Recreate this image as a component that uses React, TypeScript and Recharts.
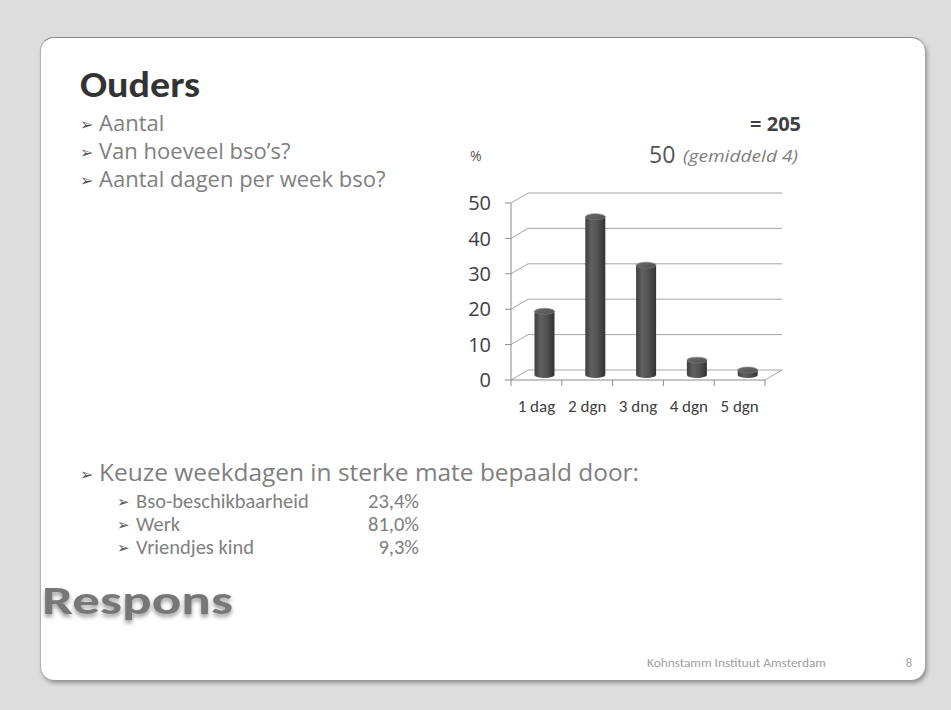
import React from 'react';
import { BarChart, Bar, XAxis, YAxis, CartesianGrid } from 'recharts';

// ---- data ----
const categories = ['1 dag', '2 dgn', '3 dng', '4 dgn', '5 dgn'];
const percentages = [18, 44.7, 31, 4.2, 1.4];
const yTicks = [0, 10, 20, 30, 40, 50];
const bulletsTop = ['Aantal', 'Van hoeveel bso\u2019s?', 'Aantal dagen per week bso?'];
const reasons = ['Bso-beschikbaarheid', 'Werk', 'Vriendjes kind'];
const reasonValues = ['23,4%', '81,0%', '9,3%'];

const data = categories.map((c, i) => ({ name: c, value: percentages[i] }));

const DX = 17;
const DY = 10;
const BAND = (765 - 511) / categories.length;
const CALIBRI = 'Carlito, Lato, sans-serif';
const SEGOE = '"Open Sans", "Noto Sans", sans-serif';

const Cylinder = (props: any) => {
  const { x, y, width, height, index } = props;
  if (width == null || height == null) return null;
  const rx = width / 2;
  const ry = 3;
  const cx = x + rx + DX / 2;
  const left = cx - rx;
  const top = y - DY / 2;
  const bottom = y + height - DY / 2;
  const gid = `cyl-${index}`;
  const tid = `cyltop-${index}`;
  return (
    <g>
      <defs>
        <linearGradient id={gid} x1="0" y1="0" x2="1" y2="0">
          <stop offset="0%" stopColor="#3e3e3e" />
          <stop offset="30%" stopColor="#606060" />
          <stop offset="60%" stopColor="#525252" />
          <stop offset="100%" stopColor="#333333" />
        </linearGradient>
        <linearGradient id={tid} x1="0" y1="0" x2="1" y2="1">
          <stop offset="0%" stopColor="#6e6e6e" />
          <stop offset="100%" stopColor="#4e4e4e" />
        </linearGradient>
      </defs>
      <path
        d={`M${left},${top} L${left},${bottom} A${rx},${ry} 0 0 0 ${left + width},${bottom} L${left + width},${top} Z`}
        fill={`url(#${gid})`}
      />
      <ellipse cx={cx} cy={top} rx={rx} ry={ry} fill={`url(#${tid})`} stroke="#808080" strokeWidth={0.6} />
    </g>
  );
};

const gridLine = (props: any) => {
  const { x1, y1, x2 } = props;
  return (
    <path
      key={`g-${y1}`}
      d={`M${x1},${y1} L${x1 + DX},${y1 - DY} L${x2 + DX},${y1 - DY}`}
      fill="none"
      stroke="#a6a6a6"
      strokeWidth={1}
    />
  );
};

const XTick = (props: any) => {
  const { x, y, payload, index, visibleTicksCount } = props;
  const half = BAND / 2;
  const last = index === visibleTicksCount - 1;
  return (
    <g>
      <line x1={x - half} y1={y} x2={x - half} y2={y + 6} stroke="#8c8c8c" />
      {last && <line x1={x + half} y1={y} x2={x + half} y2={y + 6} stroke="#8c8c8c" />}
      {last && <line x1={x + half} y1={y} x2={x + half + DX} y2={y - DY} stroke="#a6a6a6" />}
      <text x={x} y={y + 32} textAnchor="middle" fontSize={17} fill="#404040" fontFamily={CALIBRI}>
        {payload.value}
      </text>
    </g>
  );
};

const Arrow = ({ x, y, size }: { x: number; y: number; size: number }) => (
  <text x={x} y={y} fontFamily="DejaVu Sans" fontSize={size} fill="#555">{'\u27A2'}</text>
);

export default function App() {
  return (
    <div style={{ position: 'absolute', left: 0, top: 0, width: 951, height: 710, background: '#dddddd', overflow: 'hidden' }}>
      <div
        style={{
          position: 'absolute',
          left: 40,
          top: 37,
          width: 885,
          height: 643,
          background: '#ffffff',
          borderRadius: 14,
          borderTop: '1px solid #8a8a8a',
          borderLeft: '1px solid #b0b0b0',
          boxShadow: '2px 3px 4px rgba(0,0,0,0.35)',
          boxSizing: 'border-box',
        }}
      />
      <svg width={951} height={710} style={{ position: 'absolute', left: 0, top: 0 }}>
        <defs>
          <filter id="respShadow" x="-10%" y="-30%" width="120%" height="170%">
            <feGaussianBlur in="SourceGraphic" stdDeviation="0.6" result="soft" />
            <feDropShadow in="soft" dx="0" dy="3" stdDeviation="2" floodColor="#000" floodOpacity="0.4" />
          </filter>
        </defs>
        <text x={80} y={97} fontFamily={CALIBRI} fontWeight={700} fontSize={36} fill="#333333" textLength={120} lengthAdjust="spacingAndGlyphs">Ouders</text>
        {bulletsTop.map((t, i) => (
          <g key={t}>
            <Arrow x={80} y={130 + i * 28} size={16} />
            <text x={99} y={131 + i * 28} fontFamily={SEGOE} fontSize={22} fill="#808080">{t}</text>
          </g>
        ))}
        <text x={801} y={131} textAnchor="end" fontFamily={SEGOE} fontWeight={700} fontSize={20} fill="#404040">= 205</text>
        <text x={470} y={161} fontFamily={SEGOE} fontSize={14} fill="#555">%</text>
        <text x={649} y={163} fontFamily={SEGOE} fontSize={23} fill="#555">50</text>
        <text x={683} y={162} fontFamily={SEGOE} fontSize={16} fontStyle="italic" fill="#808080" textLength={115} lengthAdjust="spacingAndGlyphs">(gemiddeld 4)</text>
        <Arrow x={80} y={480} size={16} />
        <text x={99} y={481} fontFamily={SEGOE} fontSize={23} fill="#808080" textLength={540} lengthAdjust="spacingAndGlyphs">Keuze weekdagen in sterke mate bepaald door:</text>
        {reasons.map((r, i) => (
          <g key={r}>
            <Arrow x={117} y={507 + i * 23} size={15} />
            <text x={136} y={508 + i * 23} fontFamily={CALIBRI} fontSize={20.5} fill="#808080">{r}</text>
            <text x={419} y={508 + i * 23} textAnchor="end" fontFamily={CALIBRI} fontSize={20.5} fill="#808080">{reasonValues[i]}</text>
          </g>
        ))}
        <text x={42} y={614} fontFamily={CALIBRI} fontWeight={700} fontSize={41} fill="#777777" filter="url(#respShadow)" textLength={191} lengthAdjust="spacingAndGlyphs">Respons</text>
        <text x={647} y={667} fontFamily={CALIBRI} fontSize={12.5} fill="#a0a0a0" textLength={179} lengthAdjust="spacingAndGlyphs">Kohnstamm Instituut Amsterdam</text>
        <text x={912} y={667} textAnchor="end" fontFamily={CALIBRI} fontSize={12.5} fill="#a0a0a0">8</text>
      </svg>
      <div style={{ position: 'absolute', left: 440, top: 170 }}>
        <BarChart width={360} height={260} data={data} margin={{ top: 33, right: 35, bottom: 20, left: 0 }}>
          <CartesianGrid vertical={false} horizontal={gridLine} />
          <XAxis
            dataKey="name"
            height={30}
            tickSize={0}
            tickMargin={0}
            tickLine={false}
            axisLine={{ stroke: '#8c8c8c' }}
            tick={<XTick />}
            interval={0}
          />
          <YAxis
            width={71}
            domain={[0, 50]}
            ticks={yTicks}
            tickSize={6}
            tickMargin={14}
            axisLine={{ stroke: '#8c8c8c' }}
            tickLine={{ stroke: '#8c8c8c' }}
            tick={{ fontSize: 20, fill: '#404040', fontFamily: SEGOE }}
          />
          <Bar dataKey="value" barSize={20} shape={<Cylinder />} isAnimationActive={false} />
        </BarChart>
      </div>
    </div>
  );
}
